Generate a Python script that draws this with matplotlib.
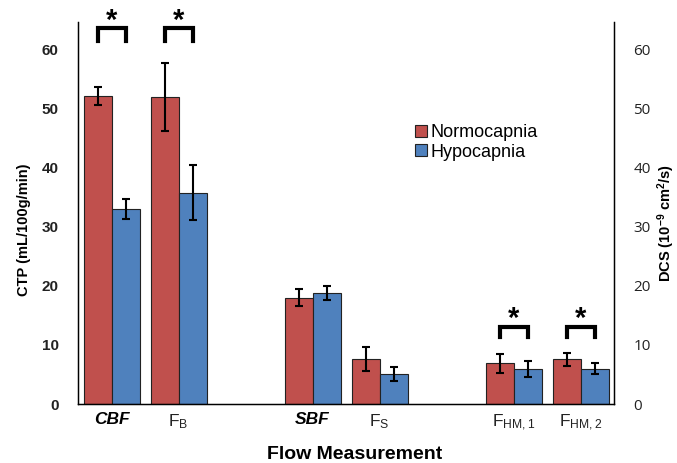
import matplotlib
matplotlib.use("Agg")
import matplotlib.pyplot as plt
import numpy as np

plt.rcParams['font.family'] = ['Liberation Sans', 'DejaVu Sans']
plt.rcParams['mathtext.fontset'] = 'custom'
plt.rcParams['mathtext.rm'] = 'Liberation Sans'
plt.rcParams['mathtext.it'] = 'Liberation Sans:italic'
plt.rcParams['mathtext.bf'] = 'Liberation Sans:bold'

slots = ['CBF', 'FB', '', 'SBF', 'FS', '', 'FHM1', 'FHM2']
tick_labels = ['CBF', r'F$_\mathregular{B}$', '',
               'SBF', r'F$_\mathregular{S}$', '',
               r'F$_\mathregular{HM,1}$', r'F$_\mathregular{HM,2}$']
normo = [52.2, 52.0, np.nan, 18.0, 7.6, np.nan, 6.9, 7.6]
normo_err = [1.5, 5.8, np.nan, 1.4, 2.0, np.nan, 1.6, 1.1]
hypo = [33.0, 35.8, np.nan, 18.8, 5.1, np.nan, 5.9, 6.0]
hypo_err = [1.7, 4.6, np.nan, 1.2, 1.2, np.nan, 1.4, 1.0]
sig_slots = [0, 1, 6, 7]
sig_y = [61.5, 61.5, 11.3, 11.3]
sig_top = [63.6, 63.6, 13.1, 13.1]

red = '#C0504D'
blue = '#4F81BD'

fig = plt.figure(figsize=(6.77, 4.63), dpi=100)
ax = fig.add_axes([78/677, 59/463, 536/677, 382/463])
x = np.arange(len(slots))
w = 28/67
ax.bar(x - w/2, normo, w, color=red, edgecolor='#222222', linewidth=0.8, label='Normocapnia', zorder=2)
ax.bar(x + w/2, hypo, w, color=blue, edgecolor='#222222', linewidth=0.8, label='Hypocapnia', zorder=2)
ax.errorbar(x - w/2, normo, yerr=normo_err, fmt='none', ecolor='black', elinewidth=1.5, capsize=3, capthick=1.5, zorder=3)
ax.errorbar(x + w/2, hypo, yerr=hypo_err, fmt='none', ecolor='black', elinewidth=1.5, capsize=3, capthick=1.5, zorder=3)

for s, yb, yt in zip(sig_slots, sig_y, sig_top):
    ax.plot([s - w/2, s - w/2, s + w/2, s + w/2], [yb, yt, yt, yb], color='black', lw=3,
            solid_joinstyle='miter', clip_on=False, zorder=4)
    ax.annotate('*', xy=(s, yt), xytext=(0, 0), textcoords='offset points',
                ha='center', va='baseline', fontsize=21, fontweight='bold', annotation_clip=False)

ax.set_xlim(-0.5, len(slots) - 0.5)
ax.set_ylim(0, 64.7)
ax.set_yticks(np.arange(0, 61, 10))
ax.tick_params(axis='y', length=0, pad=14, labelsize=11)
for t in ax.get_yticklabels():
    t.set_fontweight('bold')
    t.set_color('#222222')
ax.set_xticks(x)
ax.set_xticklabels(tick_labels, fontsize=12.5, color='#222222')
for i in (0, 3):
    lab = ax.get_xticklabels()[i]
    lab.set_fontweight('bold')
    lab.set_fontstyle('italic')
    lab.set_color('black')
ax.tick_params(axis='x', length=0, pad=6)
ax.spines['top'].set_visible(False)
for sp in ['left', 'right', 'bottom']:
    ax.spines[sp].set_linewidth(1.0)
ax.set_xlabel('Flow Measurement', fontsize=14, fontweight='bold', labelpad=10)
ax.xaxis.set_label_coords((355 - 78) / 536, -0.11)
fig.text(24/677, (463 - 230)/463, 'CTP (mL/100g/min)', fontsize=10.5, fontweight='bold',
         rotation=90, ha='center', va='center')

ax2 = ax.twinx()
ax2.set_ylim(0, 64.7)
ax2.set_yticks(np.arange(0, 61, 10))
ax2.tick_params(axis='y', length=0, pad=14, labelsize=11, labelcolor='#222222')
for t in ax2.get_yticklabels():
    t.set_family('Open Sans')
ax2.spines['top'].set_visible(False)
fig.text(666/677, (463 - 223)/463, r'DCS (10$^{\mathbf{-9}}$ cm$^{\mathbf{2}}$/s)', fontsize=10.5,
         fontweight='bold', rotation=90, ha='center', va='center')

ax.legend(loc='upper left', bbox_to_anchor=(406/677, (463-115)/463), bbox_transform=fig.transFigure,
          frameon=False, fontsize=13, handlelength=0.65, handleheight=0.65, handletextpad=0.2,
          labelspacing=0.15, borderpad=0)

fig.savefig('out.png', dpi=100)
